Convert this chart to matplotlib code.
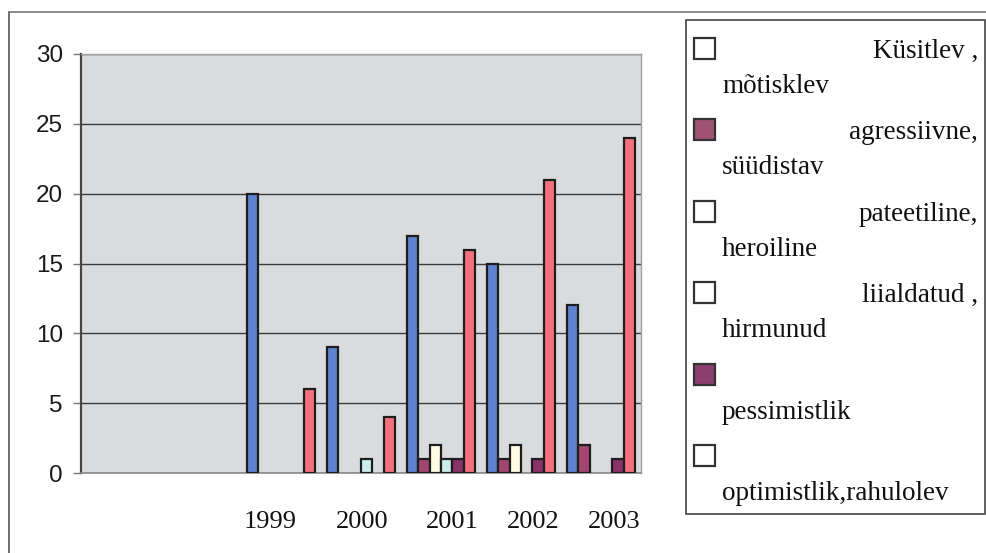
import numpy as np
import matplotlib
matplotlib.use("Agg")
import matplotlib.pyplot as plt
from matplotlib.patches import Rectangle
from matplotlib.lines import Line2D
from matplotlib.transforms import blended_transform_factory

# ---------------- data ----------------
categories = ["", "", "1999", "2000", "2001", "2002", "2003"]
kysitlev = [0, 0, 20, 9, 17, 15, 12]
agressiivne = [0, 0, 0, 0, 1, 1, 2]
pateetiline = [0, 0, 0, 0, 2, 2, 0]
liialdatud = [0, 0, 0, 1, 1, 0, 0]
pessimistlik = [0, 0, 0, 0, 1, 1, 1]
optimistlik = [0, 0, 6, 4, 16, 21, 24]

series_values = [kysitlev, agressiivne, pateetiline, liialdatud, pessimistlik, optimistlik]
series_line1 = ["Küsitlev ,", "agressiivne,", "pateetiline,", "liialdatud ,", "", ""]
series_line2 = ["mõtisklev", "süüdistav", "heroiline", "hirmunud", "pessimistlik", "optimistlik,rahulolev"]
yticks = [0, 5, 10, 15, 20, 25, 30]

# ---------------- style ----------------
bar_colors = ["#5d82d0", "#a2456f", "#fffbe4", "#cdeeee", "#8b3268", "#f6717f"]
legend_swatch = ["white", "#a05272", "white", "white", "#8c3f6e", "white"]
label_shift = [-0.14, 0.01, 0.14, 0.15, 0.16]  # layout tweak for year labels (category units)

W, H = 987, 553
fig = plt.figure(figsize=(W / 100, H / 100), dpi=100)
fig.patch.set_facecolor("white")

def fx(px):
    return px / W

def fy(py):
    return 1 - py / H

ax = fig.add_axes([fx(81), fy(473), fx(641) - fx(81), fy(54) - fy(473)])
ax.set_facecolor("#dadbdd")

n_series = len(series_values)
x = np.arange(len(categories))
group_w = 0.85
bw = group_w / n_series
for i, (vals, col) in enumerate(zip(series_values, bar_colors)):
    v = np.array(vals, dtype=float)
    mask = v > 0
    pos = x - group_w / 2 + (i + 0.5) * bw
    ax.bar(pos[mask], v[mask], width=bw, color=col, edgecolor="#1e1e1e",
           linewidth=1.6, zorder=3)

ax.set_xlim(-0.5, len(categories) - 0.5)
ax.set_ylim(0, 30)
ax.set_yticks(yticks)
ax.set_yticklabels([str(t) for t in yticks], fontsize=17.5, family="Liberation Sans",
                   color="#1a1a1a")
ax.tick_params(axis="y", direction="out", length=6, width=1, color="#777777", pad=7)
ax.set_xticks([])
ax.yaxis.grid(True, color="#3a3a3a", linewidth=1.0, zorder=1)
ax.set_axisbelow(True)
for s in ["top", "right"]:
    ax.spines[s].set_color("#a0a0a0")
    ax.spines[s].set_linewidth(1.0)
ax.spines["left"].set_color("#444444")
ax.spines["left"].set_linewidth(1.6)
ax.spines["bottom"].set_color("#8a8a8a")
ax.spines["bottom"].set_linewidth(1.2)

# year labels (typed under the chart)
trans = blended_transform_factory(ax.transData, fig.transFigure)
labelled = [(i, c) for i, c in enumerate(categories) if c]
for (i, c), sh in zip(labelled, label_shift):
    ax.text(i + sh, fy(528), c, transform=trans, ha="center", va="baseline",
            fontsize=19, family="Liberation Serif", color="#111111", clip_on=False)

# outer frame lines
fig.add_artist(Line2D([fx(9), fx(9)], [fy(12), 0], transform=fig.transFigure,
                      color="#555555", linewidth=1.2))
fig.add_artist(Line2D([fx(9), 1], [fy(12), fy(12)], transform=fig.transFigure,
                      color="#777777", linewidth=1.2))

# legend box
fig.add_artist(Rectangle((fx(686), fy(514)), fx(985) - fx(686), fy(20) - fy(514),
                         transform=fig.transFigure, facecolor="white",
                         edgecolor="#444444", linewidth=1.2))
top0 = 38
step = 81.4
for k in range(n_series):
    top = top0 + k * step
    fig.add_artist(Rectangle((fx(694), fy(top + 21)), fx(21), 21 / H,
                             transform=fig.transFigure, facecolor=legend_swatch[k],
                             edgecolor="#333333", linewidth=1.6))
    if series_line1[k]:
        fig.text(fx(978), fy(top + 20), series_line1[k], ha="right", va="baseline",
                 fontsize=19.5, family="Liberation Serif", color="#111111")
    fig.text(fx(722), fy(top + 55), series_line2[k], ha="left", va="baseline",
             fontsize=19.5, family="Liberation Serif", color="#111111")

fig.savefig("out.png", dpi=100)
